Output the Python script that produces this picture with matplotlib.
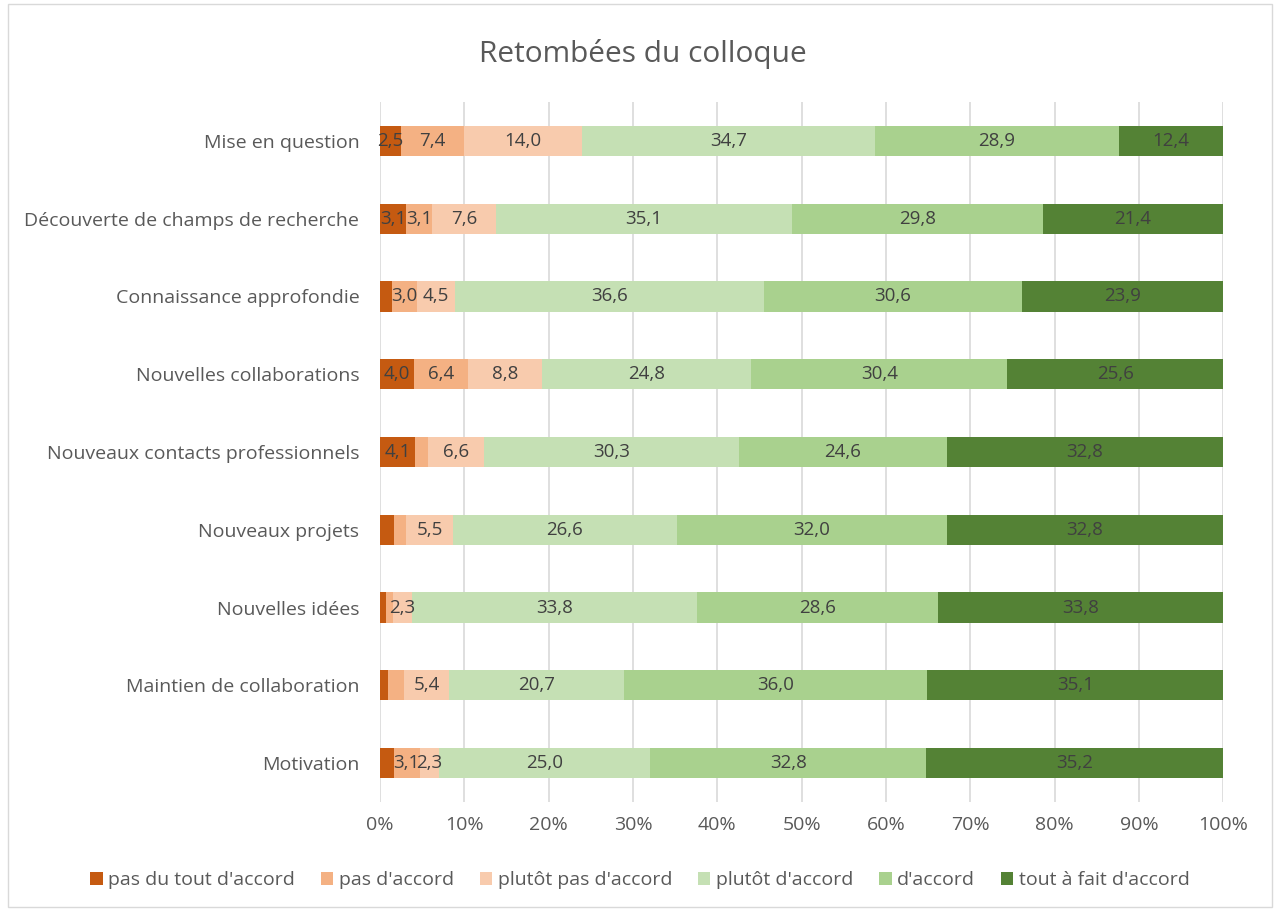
import matplotlib.pyplot as plt
import numpy as np
from matplotlib.patches import Rectangle

plt.rcParams['font.family'] = ['Open Sans', 'DejaVu Sans']

# categories, top to bottom
categories = ["Mise en question", "Découverte de champs de recherche",
              "Connaissance approfondie", "Nouvelles collaborations",
              "Nouveaux contacts professionnels", "Nouveaux projets",
              "Nouvelles idées", "Maintien de collaboration", "Motivation"]

series_names = ["pas du tout d'accord", "pas d'accord", "plutôt pas d'accord",
                "plutôt d'accord", "d'accord", "tout à fait d'accord"]

pas_du_tout = [2.5, 3.1, 1.4, 4.0, 4.1, 1.6, 0.7, 0.9, 1.6]
pas_accord = [7.4, 3.1, 3.0, 6.4, 1.6, 1.5, 0.8, 1.9, 3.1]
plutot_pas = [14.0, 7.6, 4.5, 8.8, 6.6, 5.5, 2.3, 5.4, 2.3]
plutot_accord = [34.7, 35.1, 36.6, 24.8, 30.3, 26.6, 33.8, 20.7, 25.0]
accord = [28.9, 29.8, 30.6, 30.4, 24.6, 32.0, 28.6, 36.0, 32.8]
tout_a_fait = [12.4, 21.4, 23.9, 25.6, 32.8, 32.8, 33.8, 35.1, 35.2]

colors = ['#C55A11', '#F4B183', '#F8CBAD', '#C5E0B4', '#A9D18E', '#548235']

raw = np.array([pas_du_tout, pas_accord, plutot_pas,
                plutot_accord, accord, tout_a_fait])
# normalise each row to 100 %
data = raw / raw.sum(axis=0) * 100

fig = plt.figure(figsize=(12.8, 9.11), dpi=100)
ax = fig.add_axes([0.297, 0.1197, 0.6586, 0.7683])

y = np.arange(len(categories))
left = np.zeros(len(categories))
for i in range(len(series_names)):
    ax.barh(y, data[i], left=left, height=0.39, color=colors[i],
            label=series_names[i], zorder=3)
    for j in range(len(categories)):
        if raw[i][j] >= 2:
            ax.text(left[j] + data[i][j] / 2, y[j],
                    "{:.1f}".format(raw[i][j]).replace('.', ','),
                    ha='center', va='center', fontsize=13.5,
                    color='#404040', zorder=4)
    left = left + data[i]

ax.set_xlim(0, 100)
ax.set_ylim(len(categories) - 0.5, -0.5)
ax.set_xticks(np.arange(0, 101, 10))
ax.set_xticklabels(["{}%".format(v) for v in range(0, 101, 10)])
ax.set_yticks(y)
ax.set_yticklabels(categories)
ax.tick_params(axis='both', length=0, labelsize=14, colors='#595959')
ax.tick_params(axis='y', pad=15)
ax.tick_params(axis='x', pad=10)
ax.grid(axis='x', color='#D9D9D9', linewidth=1.2, zorder=0)
for s in ax.spines.values():
    s.set_visible(False)

fig.text(0.502, 1 - 62 / 911, "Retombées du colloque", ha='center', va='baseline',
         fontsize=21.5, color='#595959')

ax.legend(loc='center', bbox_to_anchor=(0.5, 1 - 880 / 911),
          bbox_transform=fig.transFigure,
          ncol=6, frameon=False, fontsize=14, handlelength=0.65,
          handleheight=0.65, handletextpad=0.3, columnspacing=1.3,
          labelcolor='#595959')

fig.patches.append(Rectangle((0.006, 0.004), 0.988, 0.992, transform=fig.transFigure,
                             fill=False, edgecolor='#D9D9D9', linewidth=1))

fig.savefig("out.png", dpi=100)
